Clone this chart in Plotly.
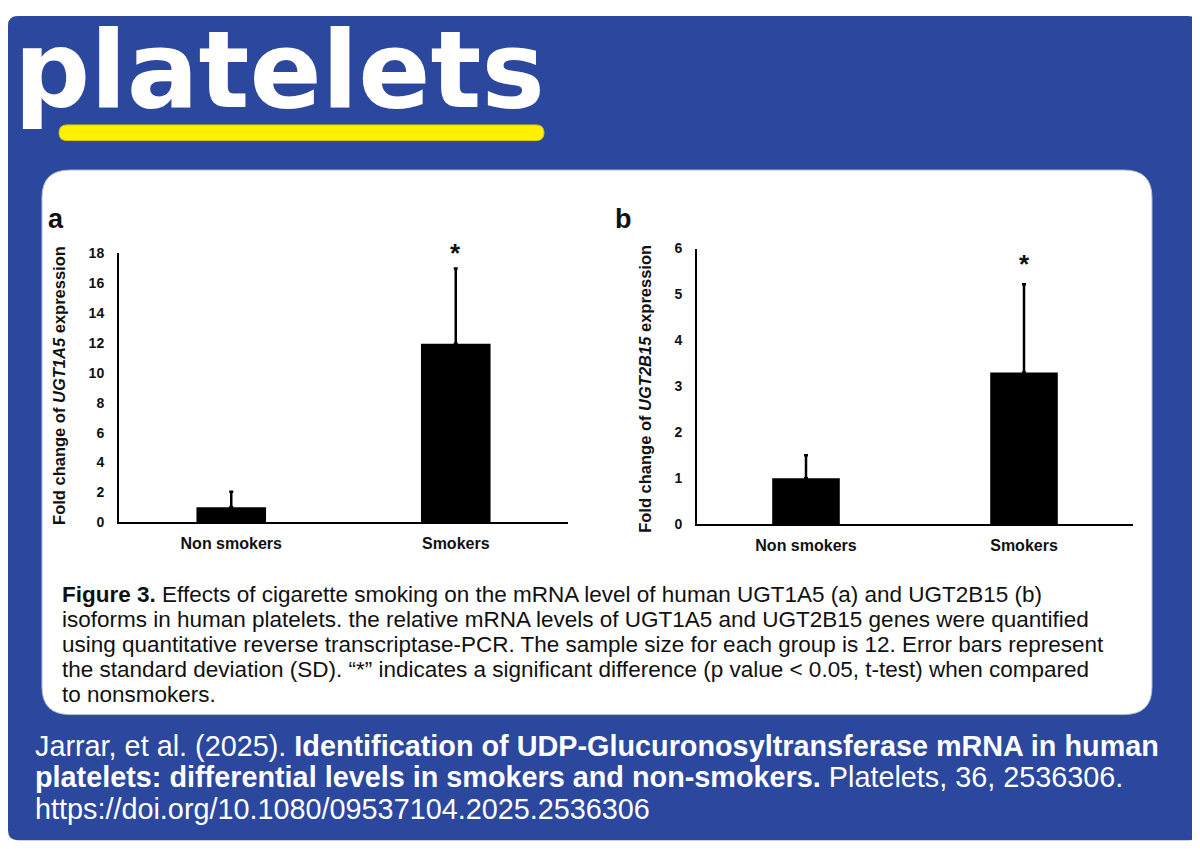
import plotly.graph_objects as go

W, H = 1200, 849
OX, OY = 8, 8  # page margin the figure sits in
BLUE = "#2B479E"
FONT = "Liberation Sans, Arial, sans-serif"

groups = ["Non smokers", "Smokers"]
ugt1a5_mean = [1.0, 11.95]
ugt1a5_sd = [1.05, 5.05]
ugt2b15_mean = [1.0, 3.30]
ugt2b15_sd = [0.50, 1.92]
ticks_a = [0, 2, 4, 6, 8, 10, 12, 14, 16, 18]
ticks_b = [0, 1, 2, 3, 4, 5, 6]

caption_lines = [
    "<b>Figure 3.</b> Effects of cigarette smoking on the mRNA level of human UGT1A5 (a) and UGT2B15 (b)",
    "isoforms in human platelets. the relative mRNA levels of UGT1A5 and UGT2B15 genes were quantified",
    "using quantitative reverse transcriptase-PCR. The sample size for each group is 12. Error bars represent",
    "the standard deviation (SD). \u201c*\u201d indicates a significant difference (p value < 0.05, t-test) when compared",
    "to nonsmokers.",
]
citation_lines = [
    "Jarrar, et al. (2025). <b>Identification of UDP-Glucuronosyltransferase mRNA in human</b>",
    "<b>platelets: differential levels in smokers and non-smokers.</b> Platelets, 36, 2536306.",
    "https://doi.org/10.1080/09537104.2025.2536306",
]


def px(x):
    return (x - OX) / W


def py(y):
    return 1 - (y - OY) / H


def rr_path(x0, y0, x1, y1, r):
    def p(x, y):
        return f"{px(x):.5f},{py(y):.5f}"
    return (f"M {p(x0 + r, y0)} L {p(x1 - r, y0)} Q {p(x1, y0)} {p(x1, y0 + r)} "
            f"L {p(x1, y1 - r)} Q {p(x1, y1)} {p(x1 - r, y1)} "
            f"L {p(x0 + r, y1)} Q {p(x0, y1)} {p(x0, y1 - r)} "
            f"L {p(x0, y0 + r)} Q {p(x0, y0)} {p(x0 + r, y0)} Z")


def err(sd):
    return dict(type="data", symmetric=False, array=sd, arrayminus=[0] * len(sd),
                color="black", thickness=2.5, width=2)


fig = go.Figure()
fig.add_trace(
    go.Bar(
        x=groups,
        y=ugt1a5_mean,
        error_y=err(ugt1a5_sd),
        marker=dict(color="black", line=dict(width=0)),
        width=0.31,
        xaxis="x",
        yaxis="y",
        showlegend=False
    )
)
fig.add_trace(
    go.Bar(
        x=groups,
        y=ugt2b15_mean,
        error_y=err(ugt2b15_sd),
        marker=dict(color="black", line=dict(width=0)),
        width=0.31,
        xaxis="x2",
        yaxis="y2",
        showlegend=False
    )
)

xcommon = dict(showline=True, linecolor="black", linewidth=2, ticks="", showgrid=False,
               zeroline=False, ticklabelstandoff=6,
               tickfont=dict(family=FONT, size=16, color="#111111", weight="bold"))
ycommon = dict(showline=True, linecolor="black", linewidth=2, ticks="", showgrid=False,
               zeroline=False, ticklabelstandoff=10,
               tickfont=dict(family=FONT, size=14, color="#111111", weight="bold"))

shapes = [
    dict(type="path", xref="paper", yref="paper", layer="below",
         path=rr_path(OX, OY, 1198, 848, 10), fillcolor=BLUE, line=dict(width=0)),
    dict(type="path", xref="paper", yref="paper", layer="below",
         path=rr_path(42, 165, 1152, 720, 28), fillcolor="white",
         line=dict(color="#b8bcc8", width=1)),
    dict(type="path", xref="paper", yref="paper", layer="below",
         path=rr_path(59, 119, 544, 135, 8), fillcolor="#FFF200",
         line=dict(color="#d8c800", width=1)),
]

annotations = [
    dict(text="platelets", x=px(12), y=py(63), xref="paper", yref="paper",
         xanchor="left", yanchor="middle", showarrow=False,
         font=dict(family="DejaVu Sans", size=106.5, color="white", weight="bold")),
    dict(text="a", x=px(46), y=py(215), xref="paper", yref="paper",
         xanchor="left", yanchor="middle", showarrow=False,
         font=dict(family=FONT, size=27, color="#111111", weight="bold")),
    dict(text="b", x=px(613), y=py(215), xref="paper", yref="paper",
         xanchor="left", yanchor="middle", showarrow=False,
         font=dict(family=FONT, size=27, color="#111111", weight="bold")),
    dict(text="Fold change of <i>UGT1A5</i> expression", x=px(59), y=py(385),
         xref="paper", yref="paper", textangle=-90, showarrow=False,
         xanchor="center", yanchor="middle",
         font=dict(family=FONT, size=16.5, color="#111111", weight="bold")),
    dict(text="Fold change of <i>UGT2B15</i> expression", x=px(645), y=py(388),
         xref="paper", yref="paper", textangle=-90, showarrow=False,
         xanchor="center", yanchor="middle",
         font=dict(family=FONT, size=16.5, color="#111111", weight="bold")),
    dict(text="*", x=groups[1], y=ugt1a5_mean[1] + ugt1a5_sd[1], xref="x", yref="y",
         yanchor="bottom", yshift=-2, showarrow=False,
         font=dict(family=FONT, size=26, color="#111111", weight="bold")),
    dict(text="*", x=groups[1], y=ugt2b15_mean[1] + ugt2b15_sd[1], xref="x2", yref="y2",
         yanchor="bottom", yshift=3, showarrow=False,
         font=dict(family=FONT, size=26, color="#111111", weight="bold")),
]

cap_base = [605, 630.5, 656, 681.5, 707]
for line, b in zip(caption_lines, cap_base):
    annotations.append(
        dict(text=line, x=px(60), y=py(b - 7.8), xref="paper", yref="paper",
             xanchor="left", yanchor="middle", showarrow=False, align="left",
             font=dict(family=FONT, size=22.5, color="#111111"))
    )

cit_base = [762, 794, 826]
for line, b in zip(citation_lines, cit_base):
    annotations.append(
        dict(text=line, x=px(33), y=py(b - 10), xref="paper", yref="paper",
             xanchor="left", yanchor="middle", showarrow=False, align="left",
             font=dict(family=FONT, size=28.8, color="white"))
    )

fig.update_layout(
    width=W,
    height=H,
    margin=dict(l=0, r=0, t=0, b=0),
    paper_bgcolor="white",
    plot_bgcolor="rgba(0,0,0,0)",
    xaxis=dict(domain=[px(119), px(568)], anchor="y", **xcommon),
    yaxis=dict(domain=[py(524), py(250)], anchor="x", range=[0, 18], tickvals=ticks_a, **ycommon),
    xaxis2=dict(domain=[px(697), px(1133)], anchor="y2", **xcommon),
    yaxis2=dict(domain=[py(526), py(245)], anchor="x2", range=[0, 6], tickvals=ticks_b, **ycommon),
    shapes=shapes,
    annotations=annotations,
    showlegend=False
)

fig.write_html("out.html")
